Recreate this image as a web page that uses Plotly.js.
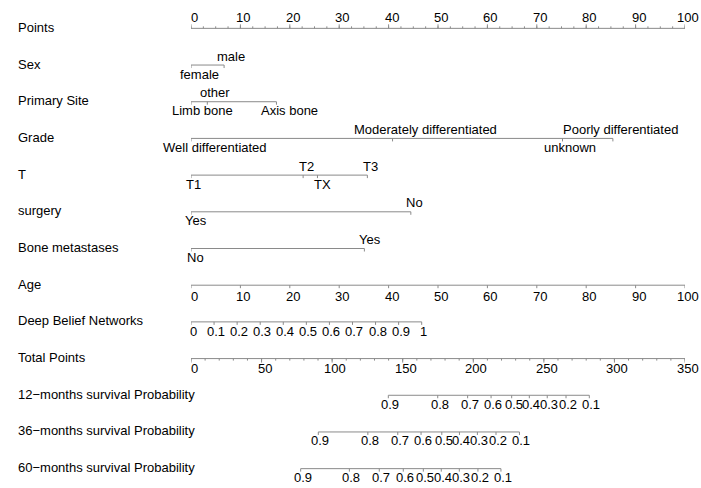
<!DOCTYPE html>
<html>
<head>
<meta charset="utf-8">
<script src="https://cdn.plot.ly/plotly-3.0.1.min.js"></script>
<style>
  html, body { margin: 0; padding: 0; background: #ffffff; }
  #chart { width: 701px; height: 488px; }
</style>
</head>
<body>
<div id="chart"></div>
<script>
// Nomogram: each predictor row maps onto the 0-100 "Points" scale.
const rowNames = [
  'Points', 'Sex', 'Primary Site', 'Grade', 'T', 'surgery',
  'Bone metastases', 'Age', 'Deep Belief Networks', 'Total Points',
  '12\u2212months survival Probability',
  '36\u2212months survival Probability',
  '60\u2212months survival Probability'
];

// Points scale
const pointsLabels = [0, 10, 20, 30, 40, 50, 60, 70, 80, 90, 100];
const pointsMinorStep = 2.5;

// Categorical predictors: level names and their points
const sexLevels = ['female', 'male'];
const sexPoints = [0, 6.7];
const siteLevels = ['Limb bone', 'other', 'Axis bone'];
const sitePoints = [0, 3.3, 17.3];
const gradeLevels = ['Well differentiated', 'Moderately differentiated', 'unknown', 'Poorly differentiated'];
const gradePoints = [0, 40.8, 75.2, 85.4];
const tLevels = ['T1', 'T2', 'TX', 'T3'];
const tPoints = [0, 22.7, 25.6, 35.7];
const surgeryLevels = ['Yes', 'No'];
const surgeryPoints = [0, 44.5];
const boneLevels = ['No', 'Yes'];
const bonePoints = [0, 35.1];

// Continuous predictors
const ageValues = [0, 10, 20, 30, 40, 50, 60, 70, 80, 90, 100];
const ageMaxPoints = 100;          // points at age 100
const dbnValues = [0, 0.1, 0.2, 0.3, 0.4, 0.5, 0.6, 0.7, 0.8, 0.9, 1];
const dbnMaxPoints = 46.7;         // points at DBN = 1

// Total points scale
const totalMax = 350;
const totalLabels = [0, 50, 100, 150, 200, 250, 300, 350];
const totalMinorStep = 10;

// Survival probability scales (position in total points)
const survProbs = [0.9, 0.8, 0.7, 0.6, 0.5, 0.4, 0.3, 0.2, 0.1];
const surv12Total = [139.8, 174.8, 196.0, 212.6, 227.2, 239.7, 252.4, 265.7, 282.2];
const surv36Total = [90.2, 125.3, 146.5, 163.0, 177.7, 190.2, 202.9, 216.1, 232.7];
const surv60Total = [77.7, 112.2, 133.4, 150.4, 164.6, 177.3, 190.1, 203.3, 219.6];

// ---- drawing helpers ----
const LINE = '#8a8a8a';
const FONT = { family: 'Liberation Sans, Arial, sans-serif', size: 13, color: '#000000' };
const PX = 477 / 13;               // pixels per row unit
const toPts = t => t * 100 / totalMax;

const traces = [];
const annotations = [];

function axisLine(row, x0, x1) {
  traces.push({
    x: [x0, x1], y: [row, row], mode: 'lines', type: 'scatter',
    line: { color: LINE, width: 1 }, hoverinfo: 'skip', showlegend: false
  });
}

function ticks(row, xs, lenPx, up) {
  const x = [], y = [];
  const d = (up ? -1 : 1) * lenPx / PX;
  xs.forEach(v => { x.push(v, v, null); y.push(row, row + d, null); });
  traces.push({
    x: x, y: y, mode: 'lines', type: 'scatter',
    line: { color: LINE, width: 1 }, hoverinfo: 'skip', showlegend: false
  });
}

function label(row, x, text, above, dy, dx) {
  annotations.push({
    x: x, y: row, xref: 'x', yref: 'y', text: text, showarrow: false,
    xanchor: 'center', yanchor: 'middle', font: FONT,
    yshift: above ? dy : -dy, xshift: dx || 0
  });
}

function range(a, b, step) {
  const out = [];
  for (let v = a; v <= b + 1e-9; v += step) out.push(Math.round(v * 1000) / 1000);
  return out;
}

// Row labels
rowNames.forEach((name, i) => {
  annotations.push({
    x: -175 / 494, y: i, xref: 'paper', yref: 'y', text: name, showarrow: false,
    xanchor: 'left', yanchor: 'middle', font: FONT, yshift: 1
  });
});

// Points row
axisLine(0, 0, 100);
ticks(0, range(0, 100, pointsMinorStep), 2, true);
ticks(0, pointsLabels, 4, true);
pointsLabels.forEach(v => label(0, v, String(v), true, 11, 3));

// Categorical rows: labels alternate below / above the line
const catRows = [
  { row: 1, levels: sexLevels, pts: sexPoints, dx: [8.5, 6.5] },
  { row: 2, levels: siteLevels, pts: sitePoints, dx: [11.5, 7.7, 13.5] },
  { row: 3, levels: gradeLevels, pts: gradePoints, dx: [24.3, 32.7, 7.7, 7.8] },
  { row: 4, levels: tLevels, pts: tPoints, dx: [2, 3.4, 4.7, 3.2] },
  { row: 5, levels: surgeryLevels, pts: surgeryPoints, dx: [5, 3.5] },
  { row: 6, levels: boneLevels, pts: bonePoints, dx: [4, 5.4] }
];
catRows.forEach(c => {
  axisLine(c.row, Math.min(...c.pts), Math.max(...c.pts));
  ticks(c.row, c.pts, 3, false);
  c.levels.forEach((lv, i) => label(c.row, c.pts[i], lv, i % 2 === 1, 9, c.dx[i]));
});

// Age
const agePts = ageValues.map(v => v * ageMaxPoints / 100);
axisLine(7, agePts[0], agePts[agePts.length - 1]);
ticks(7, agePts, 3, false);
ageValues.forEach((v, i) => label(7, agePts[i], String(v), false, 11, 3));

// Deep Belief Networks
const dbnPts = dbnValues.map(v => v * dbnMaxPoints);
axisLine(8, dbnPts[0], dbnPts[dbnPts.length - 1]);
ticks(8, dbnPts, 3, false);
dbnValues.forEach((v, i) => label(8, dbnPts[i], String(v), false, 10, 2));

// Total points
axisLine(9, 0, toPts(totalMax));
ticks(9, range(0, totalMax, totalMinorStep).map(toPts), 2, false);
ticks(9, totalLabels.map(toPts), 4, false);
totalLabels.forEach(v => label(9, toPts(v), String(v), false, 10, 3));

// Survival probability rows
[[10, surv12Total], [11, surv36Total], [12, surv60Total]].forEach(([row, tot]) => {
  const xs = tot.map(toPts);
  axisLine(row, Math.min(...xs), Math.max(...xs));
  ticks(row, xs, 3, false);
  survProbs.forEach((p, i) => label(row, xs[i], String(p), false, 9, 2));
});

const layout = {
  width: 701, height: 488,
  margin: { l: 191, r: 16, t: 10, b: 1, pad: 0 },
  paper_bgcolor: '#ffffff', plot_bgcolor: '#ffffff',
  xaxis: { range: [0, 100], visible: false, showgrid: false, zeroline: false, fixedrange: true },
  yaxis: { range: [12.5, -0.5], visible: false, showgrid: false, zeroline: false, fixedrange: true },
  annotations: annotations,
  showlegend: false
};

Plotly.newPlot('chart', traces, layout, { displayModeBar: false, staticPlot: true });
</script>
</body>
</html>
